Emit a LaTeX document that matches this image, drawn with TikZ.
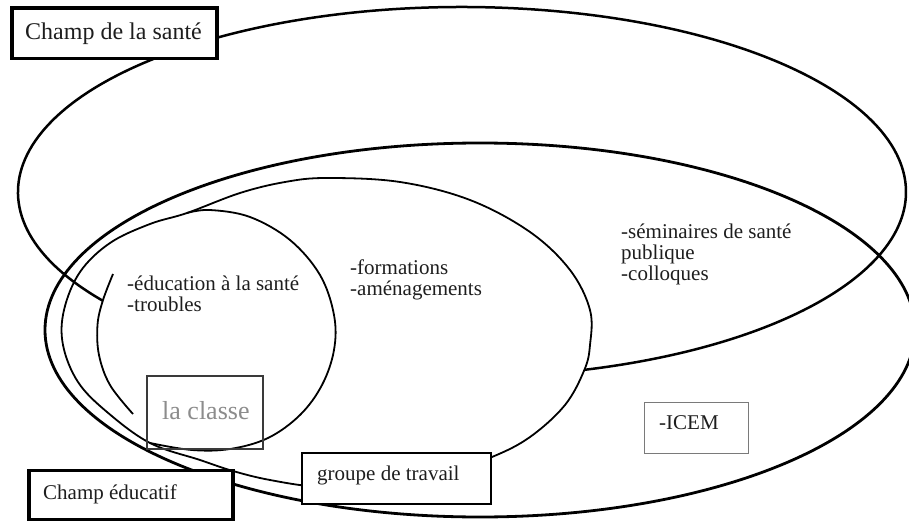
\documentclass[tikz,border=0pt]{standalone}
\usepackage{fontspec}
\setmainfont{Liberation Serif}
\definecolor{ink}{HTML}{1E1E1E}
\definecolor{classgray}{HTML}{8C8C8C}
\definecolor{classedge}{HTML}{3A3A3A}
\definecolor{icemedge}{HTML}{7A7A7A}
\begin{document}
\begin{tikzpicture}[x=1pt,y=-1pt,
  healthline/.style={line width=2.5pt, draw=black},
  eduline/.style={line width=2.8pt, draw=black},
  thinline/.style={line width=1.8pt, draw=black},
  tagbox/.style={draw, inner sep=0pt, outer sep=0pt, anchor=north west},
  txt/.style={anchor=base west, inner sep=0pt, text=ink, font=\fontsize{21}{21}\selectfont},
]
\useasboundingbox (0,0) rectangle (909,521);
\fill[white] (0,0) rectangle (909,521);

\coordinate (hc) at (462,192);
\coordinate (ec) at (480,330);

% Champ de la sante (ellipse, partly hidden)
\draw[healthline] (hc) ++(144:444 and 185) arc[start angle=144, end angle=434, x radius=444, y radius=185];

% Champ educatif (ellipse)
\draw[eduline] (ec) ellipse [x radius=435, y radius=187];

% formations ellipse
\draw[thinline] plot[smooth cycle, tension=0.6] coordinates {
 (327,178) (400,182) (470,200) (530,232) (570,270) (590,310) (590,345)
 (584.4,369.8) (565,405) (530,437) (492,457) (440,475) (380,486) (320,487)
 (270,480) (233,471) (200,460) (150,443) (107,412) (78,382) (63,345) (64,310)
 (80,272) (110,243) (150,224) (187,213) (240,193) (285,182)};

% classe ellipse (right part)
\draw[thinline] plot[smooth, tension=0.6] coordinates {
 (187,213) (210,210) (250,217) (290,240) (320,275) (334,315) (334,350)
 (322,385) (300,415) (268,438) (230,449) (192,450) (150,443)};

% short arc on the left
\draw[thinline] plot[smooth, tension=0.6] coordinates {
 (113,274) (102.8,300.7) (97.5,325) (99,355) (110,385) (133,414)};

% boxes
\node[tagbox, fill=white, line width=3.5pt, minimum width=205, minimum height=50.5] (santebox) at (12,8) {};
\node[tagbox, fill=white, line width=3.5pt, minimum width=204, minimum height=49] (educbox) at (29,470.5) {};
\node[tagbox, draw=classedge, line width=1.8pt, minimum width=116, minimum height=73] (classebox) at (147,376) {};
\node[tagbox, fill=white, line width=1.6pt, minimum width=189, minimum height=51] (groupebox) at (302,453) {};
\node[tagbox, fill=white, draw=icemedge, line width=1pt, minimum width=104, minimum height=51] (icembox) at (644,402) {};

% texts
\node[txt, font=\fontsize{24}{24}\selectfont] (tsante) at (25,40) {Champ de la santé};
\node[txt] (teduc) at (43,499) {Champ éducatif};
\node[txt] (tedu1) at (127,290) {-éducation à la santé};
\node[txt] (tedu2) at (127,311) {-troubles};
\node[txt] (tform1) at (350,274) {-formations};
\node[txt] (tform2) at (350,295) {-aménagements};
\node[txt] (tsem1) at (621,238) {-séminaires de santé};
\node[txt] (tsem2) at (621,259) {publique};
\node[txt] (tsem3) at (621,280) {-colloques};
\node[txt, text=classgray, font=\fontsize{26}{26}\selectfont] (tclasse) at (162,419) {la classe};
\node[txt] (tgroupe) at (317,480) {groupe de travail};
\node[txt] (ticem) at (659,429) {-ICEM};
\end{tikzpicture}
\end{document}
